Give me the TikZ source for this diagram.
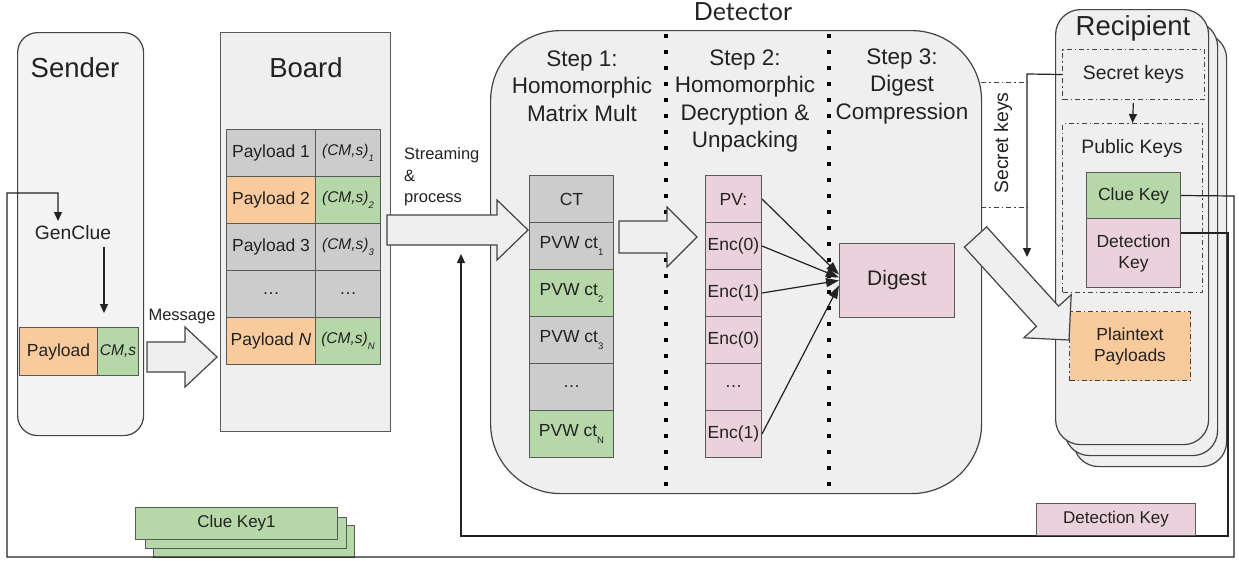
\documentclass[tikz,border=0pt]{standalone}
\usepackage{fontspec}
\setmainfont{Liberation Sans}
\newfontfamily\latofont{Lato}
\usetikzlibrary{arrows.meta,calc}
\definecolor{grayc}{HTML}{CCCCCC}
\definecolor{orangec}{HTML}{F9CB9C}
\definecolor{greenc}{HTML}{B6D7A8}
\definecolor{pinkc}{HTML}{EAD1DC}
\definecolor{panel}{HTML}{EFEFEF}
\definecolor{edge}{HTML}{595959}
\definecolor{dark}{HTML}{434343}
\definecolor{ink}{HTML}{222222}
\newcommand\fs[2]{\fontsize{#1}{#2}\selectfont}
\newcommand\sub[1]{\raisebox{-0.4em}{\fontsize{9.5}{10}\selectfont #1}}
\newcommand\harrow[6]{%
  \draw[barrow] (#1,#4-#5) -- (#2,#4-#5) -- (#2,#4-#6) -- (#3,#4) -- (#2,#4+#6) -- (#2,#4+#5) -- (#1,#4+#5) -- cycle;}
\begin{document}
\begin{tikzpicture}[x=1pt,y=-1pt,
  every node/.style={text=ink, font=\fs{17.5}{21}},
  panelbox/.style={draw=dark, line width=1.2pt, fill=panel, inner sep=0pt, anchor=north west},
  cell/.style={draw=edge, line width=1pt, inner sep=0pt, anchor=north west, minimum height=47pt},
  gcell/.style={cell, fill=grayc}, ocell/.style={cell, fill=orangec},
  grcell/.style={cell, fill=greenc}, pcell/.style={cell, fill=pinkc},
  cms/.style={font=\fs{15.5}{18}\itshape},
  conn/.style={draw=ink, line width=1.2pt},
  arr/.style={conn, -{Triangle[length=9pt,width=8pt]}},
  bigarr/.style={conn, -{Triangle[length=13pt,width=9pt]}},
  barrow/.style={draw=dark, line width=1.2pt, fill=panel, line join=miter},
  dashdot/.style={draw=dark, line width=1pt, dash pattern=on 5pt off 3pt on 1.5pt off 3pt},
  dotline/.style={line width=3.5pt, dash pattern=on 3.5pt off 12.5pt, draw=black},
  title/.style={font=\fs{27.5}{30}},
  steptext/.style={font=\fs{22.5}{27.5}, align=center},
  small/.style={font=\fs{16.5}{21.5}},
]
\useasboundingbox (0,0) rectangle (1239,560);

% ---------- panels ----------
\node[panelbox, rounded corners=20pt, fill=panel!70!white, minimum width=126pt, minimum height=403pt] (sender) at (17,32) {};
\node[panelbox, draw=edge, minimum width=170pt, minimum height=399pt] (board) at (220,32) {};
\node[panelbox, rounded corners=70pt, minimum width=491pt, minimum height=463pt] (det) at (490,30) {};
\node[panelbox, rounded corners=25pt, minimum width=153pt, minimum height=433pt] (rec3) at (1073,33) {};
\node[panelbox, rounded corners=25pt, minimum width=153pt, minimum height=434pt] (rec2) at (1064,21) {};
\node[panelbox, rounded corners=25pt, minimum width=153pt, minimum height=435pt] (rec1) at (1055,9) {};

% titles
\node[title] (sendert) at (75,68) {Sender};
\node[title] (boardt) at (306,68) {Board};
\node[title] (rect) at (1133,28) {Recipient};
\node[font=\latofont\fs{25}{28}] (dett) at (743,12) {Detector};

% dotted separators
\draw[dotline] (666,34) -- (666,490);
\draw[dotline] (829,34) -- (829,490);

% step texts
\node[steptext] (s1) at (582,86) {Step 1:\\Homomorphic\\Matrix Mult};
\node[steptext] (s2) at (745,101) {Step 2:\\Homomorphic\\Decryption \&\\Unpacking};
\node[steptext] (s3) at (902,86) {Step 3:\\Digest\\Compression};

% ---------- sender ----------
\node[font=\fs{19.3}{22}] (gen) at (73,233) {GenClue};
\node[ocell, minimum width=78pt, minimum height=48pt] (sp) at (19,327) {Payload};
\node[grcell, cms, minimum width=41pt, minimum height=48pt] (sc) at (97,327) {CM,s};

% ---------- board table ----------
\node[gcell, minimum width=89pt] (b1l) at (226,129) {Payload 1};
\node[gcell, cms, minimum width=65pt] (b1r) at (315,129) {(CM,s)\sub{1}};
\node[ocell, minimum width=89pt] (b2l) at (226,176) {Payload 2};
\node[grcell, cms, minimum width=65pt] (b2r) at (315,176) {(CM,s)\sub{2}};
\node[gcell, minimum width=89pt] (b3l) at (226,223) {Payload 3};
\node[gcell, cms, minimum width=65pt] (b3r) at (315,223) {(CM,s)\sub{3}};
\node[gcell, minimum width=89pt] (b4l) at (226,270) {…};
\node[gcell, minimum width=65pt] (b4r) at (315,270) {…};
\node[ocell, minimum width=89pt] (b5l) at (226,317) {Payload \textit{N}};
\node[grcell, cms, minimum width=65pt] (b5r) at (315,317) {(CM,s)\sub{N}};

% ---------- step 1 column ----------
\node[gcell, minimum width=84pt] (ct0) at (529,175) {CT};
\node[gcell, minimum width=84pt] (ct1) at (529,222) {PVW ct\sub{1}};
\node[grcell, minimum width=84pt] (ct2) at (529,269) {PVW ct\sub{2}};
\node[gcell, minimum width=84pt] (ct3) at (529,316) {PVW ct\sub{3}};
\node[gcell, minimum width=84pt] (ct4) at (529,363) {…};
\node[grcell, minimum width=84pt] (ct5) at (529,410) {PVW ct\sub{N}};

% ---------- step 2 column ----------
\node[pcell, minimum width=56pt] (pv) at (705,175) {PV:};
\node[pcell, minimum width=56pt] (e1) at (705,222) {Enc(0)};
\node[pcell, minimum width=56pt] (e2) at (705,269) {Enc(1)};
\node[pcell, minimum width=56pt] (e3) at (705,316) {Enc(0)};
\node[pcell, minimum width=56pt] (e4) at (705,363) {…};
\node[pcell, minimum width=56pt] (e5) at (705,410) {Enc(1)};

% ---------- digest ----------
\node[pcell, minimum width=115pt, minimum height=74pt, font=\fs{21}{24}] (dig) at (839,243) {Digest};

% ---------- recipient ----------
\node[dashdot, fill=panel, anchor=north west, minimum width=142pt, minimum height=50pt, inner sep=0pt, font=\fs{19.4}{22}] (sk) at (1062,49) {Secret keys};
\node[dashdot, fill=panel, anchor=north west, minimum width=140pt, minimum height=169pt, inner sep=0pt] (pubk) at (1062,123) {};
\node[font=\fs{19.4}{22}] (pubt) at (1132,148) {Public Keys};
\node[grcell, minimum width=94pt, minimum height=46pt] (ck) at (1086,172) {Clue Key};
\node[pcell, minimum width=94pt, minimum height=69pt, align=center] (dk) at (1086,218) {Detection\\Key};
\node[ocell, dashdot, minimum width=121pt, minimum height=69pt, align=center] (pt) at (1069,311) {Plaintext\\Payloads};

% secret keys label strip
\draw[dashdot] (981,82) -- (1027,82);
\draw[dashdot] (981,207) -- (1027,207);
\node[rotate=90, font=\fs{19.4}{22}] (skl) at (1003,143) {Secret keys};

% ---------- bottom key boxes ----------
\node[grcell, minimum width=201pt, minimum height=32pt] (ckb3) at (153,525) {};
\node[grcell, minimum width=201pt, minimum height=31pt] (ckb2) at (145,517) {};
\node[grcell, minimum width=202pt, minimum height=32pt, font=\fs{17}{20}] (ckb1) at (135,507) {Clue Key1};

% ---------- block arrows ----------
\harrow{147}{185}{217}{357}{15}{30}
\harrow{387}{497}{528}{230}{15}{30}
\harrow{619}{667}{697}{237}{16}{30}
\draw[barrow] (964.4,247.1) -- (1036.4,326.4) -- (1023.8,337.8) -- (1069,340) -- (1071.2,294.8) -- (1058.6,306.2) -- (986.6,226.9) -- cycle;

\node[small] (msg) at (182,317) {Message};
\node[small, align=left, anchor=west, inner sep=0pt] (stream) at (404,177) {Streaming\\\&\\process};

% ---------- connectors ----------
\coordinate (gcout) at (104,247);
\coordinate (gcin) at (104,313);
\draw[arr] (gcout) -- (gcin);

\draw[bigarr] (pv.east) -- ([yshift=6pt]dig.west);
\draw[bigarr] (e1.east) -- ([yshift=3pt]dig.west);
\draw[bigarr] (e2.east) -- ([yshift=0pt]dig.west);
\draw[bigarr] (e5.east) -- ([yshift=-5pt]dig.west);

\draw[arr, shorten <=3pt] (sk.south) -- (pubk.north);
\coordinate (skbend) at (1027,74);
\coordinate (skend) at (1027,257);
\draw[arr] (sk.west) -- (skbend) -- (skend);

% clue key loop to GenClue
\coordinate (c1) at (1234,196);
\coordinate (c2) at (1234,557);
\coordinate (c3) at (7,557);
\coordinate (c4) at (7,193);
\coordinate (c5) at (58,193);
\coordinate (gentop) at (58,221);
\draw[arr] (ck.east) -- (c1) -- (c2) -- (c3) -- (c4) -- (c5) -- (gentop);

% detection key loop to detector
\coordinate (d1) at (1228,233);
\coordinate (d2) at (1228,536);
\coordinate (d3) at (461,536);
\coordinate (d4) at (461,254);
\draw[arr] (dk.east |- d1) -- (d1) -- (d2) -- (d3) -- (d4);
\node[pcell, minimum width=159pt, minimum height=32pt, font=\fs{17}{20}] (dkb) at (1036,503) {Detection Key};
\end{tikzpicture}
\end{document}
